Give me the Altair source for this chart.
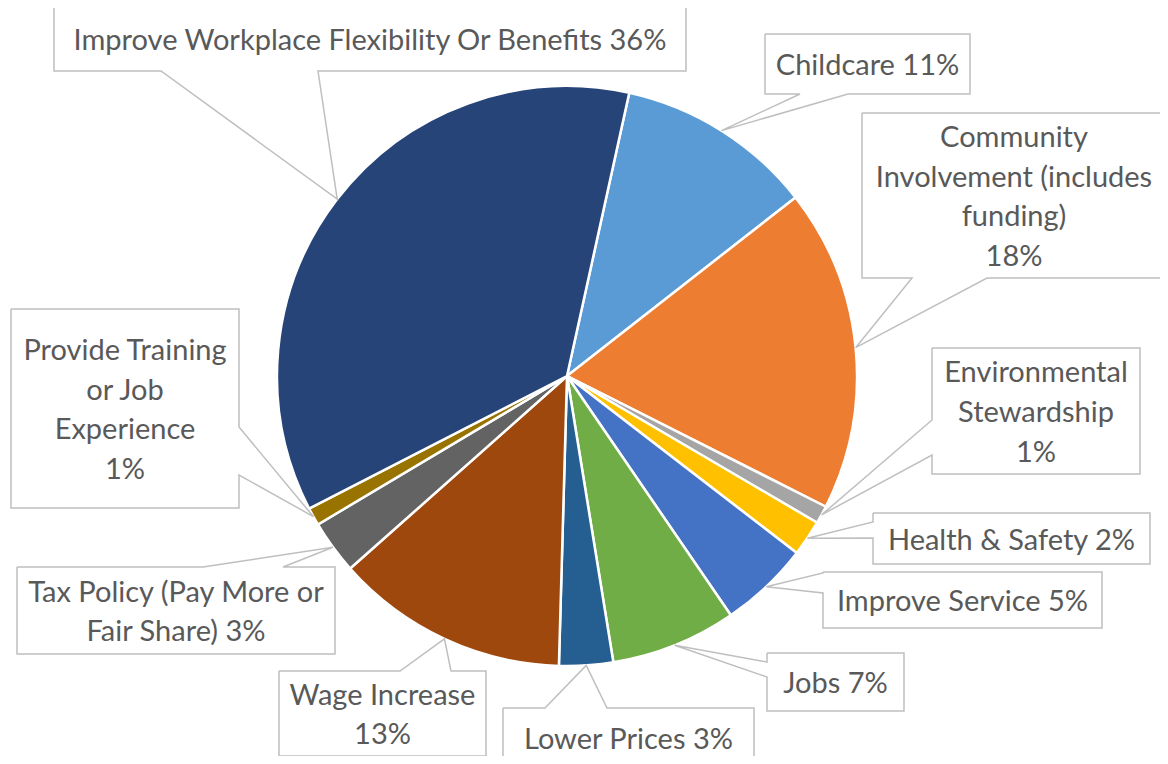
import math
import altair as alt
import pandas as pd

# ---------------- data ----------------
categories = [
    "Childcare",
    "Community Involvement (includes funding)",
    "Environmental Stewardship",
    "Health & Safety",
    "Improve Service",
    "Jobs",
    "Lower Prices",
    "Wage Increase",
    "Tax Policy (Pay More or Fair Share)",
    "Provide Training or Job Experience",
    "Improve Workplace Flexibility Or Benefits",
]
values = [11, 18, 1, 2, 5, 7, 3, 13, 3, 1, 36]
colors = ["#5B9BD5", "#ED7D31", "#A5A5A5", "#FFC000", "#4472C4", "#70AD47",
          "#255E91", "#9E480E", "#636363", "#997300", "#264478"]

# label line breaks ({p} = percentage)
label_lines = [
    ["Childcare {p}"],
    ["Community", "Involvement (includes", "funding)", "{p}"],
    ["Environmental", "Stewardship", "{p}"],
    ["Health & Safety {p}"],
    ["Improve Service {p}"],
    ["Jobs {p}"],
    ["Lower Prices {p}"],
    ["Wage Increase", "{p}"],
    ["Tax Policy (Pay More or", "Fair Share) {p}"],
    ["Provide Training", "or Job", "Experience", "{p}"],
    ["Improve Workplace Flexibility Or Benefits {p}"],
]

# ---------------- layout (page pixel frame) ----------------
W, H, OFF = 1152, 748, 8
CX, CY, R = 567, 376, 290
START_DEG = 12.4
LINE_H = 39.6
# box (x1, y1, x2, y2), edge carrying the pointer, pointer base (two coords along that edge)
boxes = [
    ((765, 34, 970, 94), "bottom", (800, 848)),
    ((862, 113, 1166, 278), "bottom", (912, 987)),
    ((932, 348, 1140, 474), "left", (420, 455)),
    ((873, 513, 1150, 564), "left", (522, 538)),
    ((823, 572, 1102, 628), "left", (573, 593)),
    ((767, 653, 904, 711), "left", (662, 677)),
    ((503, 708, 754, 768), "top", (545, 607)),
    ((279, 671, 486, 756), "top", (400, 451)),
    ((17, 567, 335, 654), "top", (203, 283)),
    ((11, 309, 239, 508), "right", (427, 475)),
    ((54, 7, 686, 71), "bottom", (161, 318)),
]

total = sum(values)
start = math.radians(START_DEG)

outline_rows, text_rows = [], []
cum = 0.0
for i, (cat, v) in enumerate(zip(categories, values)):
    mid = start + 2 * math.pi * (cum + v / 2) / total
    cum += v
    ax, ay = CX + R * math.sin(mid), CY - R * math.cos(mid)
    (x1, y1, x2, y2), edge, (b1, b2) = boxes[i]
    if edge == "top":
        pts = [(x1, y1), (b1, y1), (ax, ay), (b2, y1), (x2, y1), (x2, y2), (x1, y2), (x1, y1)]
    elif edge == "right":
        pts = [(x1, y1), (x2, y1), (x2, b1), (ax, ay), (x2, b2), (x2, y2), (x1, y2), (x1, y1)]
    elif edge == "bottom":
        pts = [(x1, y1), (x2, y1), (x2, y2), (b2, y2), (ax, ay), (b1, y2), (x1, y2), (x1, y1)]
    else:
        pts = [(x1, y1), (x2, y1), (x2, y2), (x1, y2), (x1, b2), (ax, ay), (x1, b1), (x1, y1)]
    for k, (px, py) in enumerate(pts):
        outline_rows.append({"label": cat, "k": k, "x": px, "y": py})
    pct = f"{round(100 * v / total)}%"
    lines = [s.replace("{p}", pct) for s in label_lines[i]]
    n = len(lines)
    bx, by = (x1 + x2) / 2, (y1 + y2) / 2
    for j, s in enumerate(lines):
        text_rows.append({"label": cat, "t": s, "x": bx, "y": by + (j - (n - 1) / 2) * LINE_H})

pie_df = pd.DataFrame({"category": categories, "value": values, "idx": list(range(len(values)))})
outline_df = pd.DataFrame(outline_rows)
text_df = pd.DataFrame(text_rows)

xs = alt.Scale(domain=[OFF, OFF + W], nice=False, zero=False)
ys = alt.Scale(domain=[OFF, OFF + H], nice=False, zero=False, reverse=True)

pie = alt.Chart(pie_df).mark_arc(radius=R, stroke="white", strokeWidth=2.5).encode(
    theta=alt.Theta("value:Q", stack=True, scale=alt.Scale(range=[start, start + 2 * math.pi])),
    order=alt.Order("idx:Q"),
    color=alt.Color("category:N", scale=alt.Scale(domain=categories, range=colors), legend=None),
    x=alt.X(datum=CX, type="quantitative", scale=xs, axis=None),
    y=alt.Y(datum=CY, type="quantitative", scale=ys, axis=None),
)

outline = alt.Chart(outline_df).mark_line(
    stroke="#BFBFBF", strokeWidth=1.5, strokeJoin="miter", interpolate="linear"
).encode(
    x=alt.X("x:Q", scale=xs, axis=None),
    y=alt.Y("y:Q", scale=ys, axis=None),
    detail="label:N",
    order="k:Q",
)

text = alt.Chart(text_df).mark_text(
    font="Lato", fontSize=29, color="#595959", align="center", baseline="middle", dy=2
).encode(
    x=alt.X("x:Q", scale=xs, axis=None),
    y=alt.Y("y:Q", scale=ys, axis=None),
    text="t:N",
)

chart = alt.layer(pie, outline, text).properties(
    width=W, height=H, padding=0, autosize=alt.AutoSizeParams(type="none")
).configure_view(stroke=None)

chart.save("out.html", embed_options={"renderer": "svg", "actions": False})
